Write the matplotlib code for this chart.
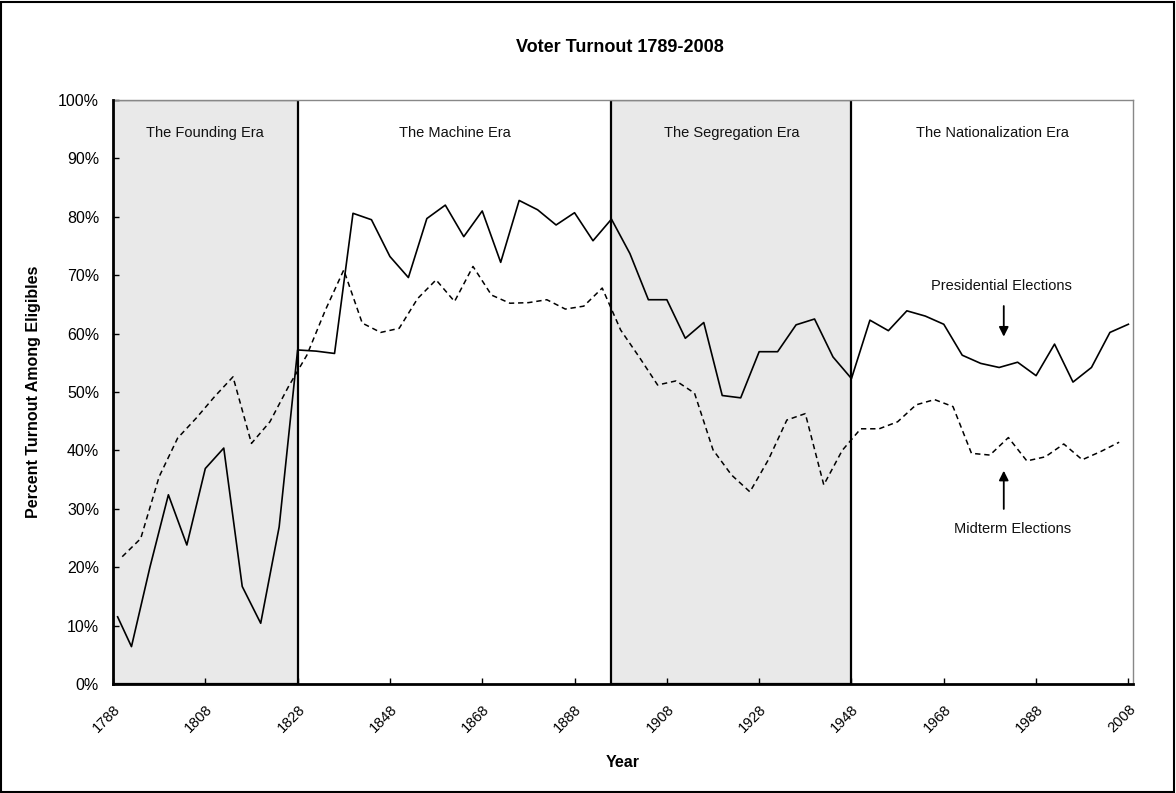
import matplotlib
matplotlib.use("Agg")
import matplotlib.pyplot as plt
from matplotlib.patches import Rectangle

plt.rcParams['font.family'] = ['Liberation Sans', 'DejaVu Sans']

# Presidential election turnout (%)
pres_years = [1789, 1792, 1796, 1800, 1804, 1808, 1812, 1816, 1820, 1824, 1828,
              1832, 1836, 1840, 1844, 1848, 1852, 1856, 1860, 1864, 1868, 1872,
              1876, 1880, 1884, 1888, 1892, 1896, 1900, 1904, 1908, 1912, 1916,
              1920, 1924, 1928, 1932, 1936, 1940, 1944, 1948, 1952, 1956, 1960,
              1964, 1968, 1972, 1976, 1980, 1984, 1988, 1992, 1996, 2000, 2004, 2008]
pres_vals = [11.5, 6.4, 20.0, 32.4, 23.8, 36.9, 40.4, 16.7, 10.4, 26.9, 57.2,
             57.0, 56.6, 80.6, 79.5, 73.2, 69.6, 79.7, 82.0, 76.6, 81.0, 72.2,
             82.8, 81.2, 78.6, 80.7, 75.9, 79.6, 73.7, 65.8, 65.8, 59.2, 61.9,
             49.4, 49.0, 56.9, 56.9, 61.5, 62.5, 56.0, 52.3, 62.3, 60.5, 63.9,
             63.0, 61.6, 56.3, 54.9, 54.2, 55.1, 52.8, 58.2, 51.7, 54.2, 60.2, 61.6]

# Midterm election turnout (%)
mid_years = [1790, 1794, 1798, 1802, 1806, 1810, 1814, 1818, 1822, 1826, 1830,
             1834, 1838, 1842, 1846, 1850, 1854, 1858, 1862, 1866, 1870, 1874,
             1878, 1882, 1886, 1890, 1894, 1898, 1902, 1906, 1910, 1914, 1918,
             1922, 1926, 1930, 1934, 1938, 1942, 1946, 1950, 1954, 1958, 1962,
             1966, 1970, 1974, 1978, 1982, 1986, 1990, 1994, 1998, 2002, 2006]
mid_vals = [21.8, 24.9, 35.5, 42.1, 45.5, 49.2, 52.6, 41.2, 44.9, 50.9, 56.3,
            64.0, 70.9, 61.8, 60.2, 60.9, 66.0, 69.2, 65.5, 71.5, 66.6, 65.2,
            65.3, 65.8, 64.2, 64.7, 67.8, 60.6, 56.0, 51.2, 51.9, 49.8, 40.1,
            35.8, 32.9, 38.4, 45.2, 46.3, 34.1, 40.0, 43.7, 43.7, 44.9, 47.8,
            48.7, 47.5, 39.5, 39.2, 42.2, 38.2, 38.9, 41.1, 38.4, 39.8, 41.4]

# Eras
era_names = ["The Founding Era", "The Machine Era", "The Segregation Era",
             "The Nationalization Era"]
era_bounds = [(1788, 1828), (1828, 1896), (1896, 1948), (1948, 2009)]
era_shaded = [True, False, True, False]

xtick_years = list(range(1788, 2009, 20))
yticks = list(range(0, 101, 10))

W, H = 1176, 793
fig = plt.figure(figsize=(W / 100, H / 100), dpi=100)
fig.patch.set_facecolor('white')
# outer border
fig.add_artist(Rectangle((0.001, 0.001), 0.997, 0.997, transform=fig.transFigure,
                         fill=False, edgecolor='black', linewidth=1.5))

ax = fig.add_axes([113 / W, 1 - 684 / H, (1133 - 113) / W, (684 - 100) / H])
ax.set_xlim(1788, 2009)
ax.set_ylim(0, 100)

for (x0, x1), shaded, name in zip(era_bounds, era_shaded, era_names):
    if shaded:
        ax.add_patch(Rectangle((x0, 0), x1 - x0, 100, facecolor='#e9e9e9',
                               edgecolor='black', linewidth=1.6, zorder=1))
    ax.text((x0 + x1) / 2, 94.4, name, ha='center', va='center', fontsize=10.5,
            color='#111111', zorder=3)

ax.plot(pres_years, pres_vals, color='black', linewidth=1.2, zorder=4)
ax.plot(mid_years, mid_vals, color='black', linewidth=1.1,
        linestyle=(0, (3.5, 2.5)), zorder=4)

# annotations
ax.text(1980.5, 68.2, "Presidential Elections", ha='center', va='center',
        fontsize=10.5, color='#111111')
ax.annotate("", xy=(1981, 59.0), xytext=(1981, 65.2),
            arrowprops=dict(arrowstyle='-|>', color='black', lw=1.3,
                            mutation_scale=14))
ax.text(1983, 26.5, "Midterm Elections", ha='center', va='center',
        fontsize=10.5, color='#111111')
ax.annotate("", xy=(1981, 37.0), xytext=(1981, 29.5),
            arrowprops=dict(arrowstyle='-|>', color='black', lw=1.3,
                            mutation_scale=14))

ax.set_xticks(xtick_years)
ax.set_xticklabels([str(y) for y in xtick_years], rotation=45, ha='right',
                   rotation_mode='anchor', fontsize=10.5)
ax.set_yticks(yticks)
ax.set_yticklabels([f"{v}%" for v in yticks], fontsize=11.5)
ax.tick_params(axis='both', direction='in', length=4, width=1, colors='black')
ax.tick_params(axis='x', pad=13)
ax.tick_params(axis='y', pad=10)

for side in ['top', 'right']:
    ax.spines[side].set_color('#888888')
    ax.spines[side].set_linewidth(1.0)
for side in ['left', 'bottom']:
    ax.spines[side].set_color('black')
    ax.spines[side].set_linewidth(2.0)
    ax.spines[side].set_zorder(5)

ax.set_xlabel("Year", fontsize=11.5, fontweight='bold', labelpad=14)
ax.set_ylabel("Percent Turnout Among Eligibles", fontsize=11.5, fontweight='bold',
              labelpad=12)
fig.text(620 / W, 1 - 48 / H, "Voter Turnout 1789-2008", ha='center',
         va='center', fontsize=13, fontweight='bold')

fig.savefig("out.png", dpi=100)
